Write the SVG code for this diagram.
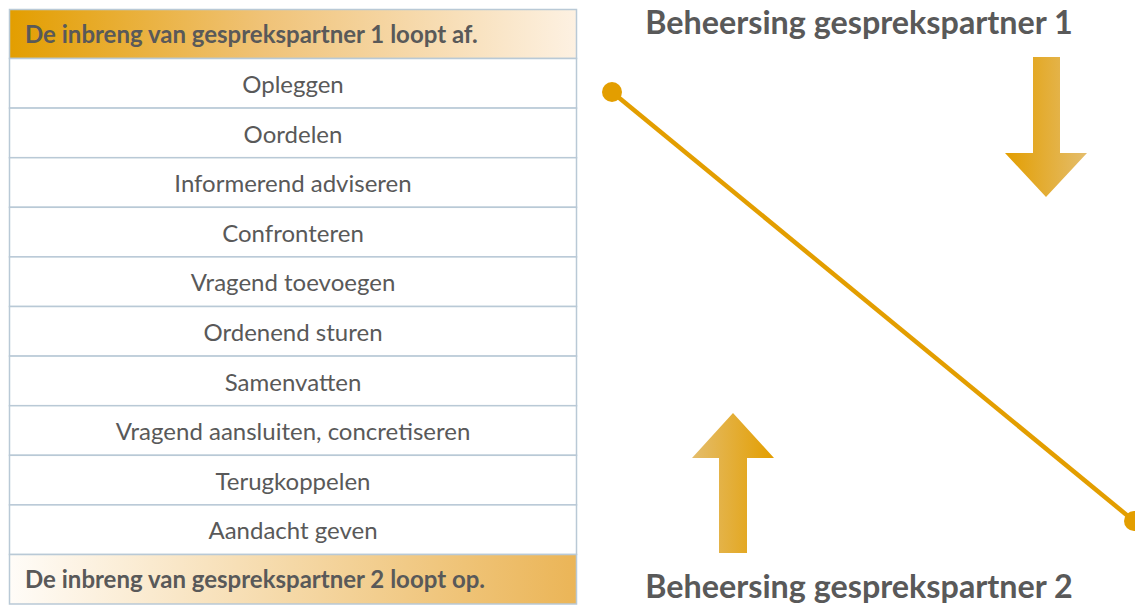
<svg xmlns="http://www.w3.org/2000/svg" width="1135" height="606" viewBox="0 0 1135 606">
<defs>
<linearGradient id="gTop" x1="0" y1="0" x2="1" y2="0">
<stop offset="0" stop-color="#e39e00"/>
<stop offset="0.45" stop-color="#f0c378"/>
<stop offset="1" stop-color="#fdf1e2"/>
</linearGradient>
<linearGradient id="gBot" x1="0" y1="0" x2="1" y2="0">
<stop offset="0" stop-color="#fffcf8"/>
<stop offset="0.5" stop-color="#f5d8a6"/>
<stop offset="1" stop-color="#ebb557"/>
</linearGradient>
<linearGradient id="gDown" x1="0" y1="0" x2="1" y2="0">
<stop offset="0" stop-color="#e39e00"/>
<stop offset="1" stop-color="#e4bd6c"/>
</linearGradient>
<linearGradient id="gUp" x1="0" y1="0" x2="1" y2="0">
<stop offset="0" stop-color="#e4bd6c"/>
<stop offset="1" stop-color="#e39e00"/>
</linearGradient>
</defs>
<style>
.cell{fill:#ffffff;stroke:#b9c9d6;stroke-width:1.5}
.t{font-family:Lato,"Liberation Sans",sans-serif;font-size:24px;fill:#595959;text-anchor:middle}
.h{font-family:Lato,"Liberation Sans",sans-serif;font-size:24px;font-weight:bold;fill:#595959}
.title{font-family:Lato,"Liberation Sans",sans-serif;font-size:32.3px;font-weight:bold;fill:#595959;text-anchor:middle}
.line{stroke:#e39e00;stroke-width:4.5;fill:none}
.dot{fill:#e39e00}
</style>
<g id="table">
<g id="row-header-top"><rect class="cell" x="9.5" y="9.5" width="567" height="49" style="fill:url(#gTop)"/><text class="h" x="25" y="43">De inbreng van gesprekspartner 1 loopt af.</text></g>
<g id="row-1"><rect class="cell" x="9.5" y="58.5" width="567" height="49.6"/><text class="t" x="293" y="93">Opleggen</text></g>
<g id="row-2"><rect class="cell" x="9.5" y="108.1" width="567" height="49.6"/><text class="t" x="293" y="142.6">Oordelen</text></g>
<g id="row-3"><rect class="cell" x="9.5" y="157.7" width="567" height="49.6"/><text class="t" x="293" y="192.2">Informerend adviseren</text></g>
<g id="row-4"><rect class="cell" x="9.5" y="207.3" width="567" height="49.6"/><text class="t" x="293" y="241.8">Confronteren</text></g>
<g id="row-5"><rect class="cell" x="9.5" y="256.9" width="567" height="49.6"/><text class="t" x="293" y="291.4">Vragend toevoegen</text></g>
<g id="row-6"><rect class="cell" x="9.5" y="306.5" width="567" height="49.6"/><text class="t" x="293" y="341">Ordenend sturen</text></g>
<g id="row-7"><rect class="cell" x="9.5" y="356.1" width="567" height="49.6"/><text class="t" x="293" y="390.6">Samenvatten</text></g>
<g id="row-8"><rect class="cell" x="9.5" y="405.7" width="567" height="49.6"/><text class="t" x="293" y="440.2">Vragend aansluiten, concretiseren</text></g>
<g id="row-9"><rect class="cell" x="9.5" y="455.3" width="567" height="49.6"/><text class="t" x="293" y="489.8">Terugkoppelen</text></g>
<g id="row-10"><rect class="cell" x="9.5" y="504.9" width="567" height="49.6"/><text class="t" x="293" y="539.4">Aandacht geven</text></g>
<g id="row-header-bottom"><rect class="cell" x="9.5" y="554.5" width="567" height="49.5" style="fill:url(#gBot)"/><text class="h" x="25" y="588">De inbreng van gesprekspartner 2 loopt op.</text></g>
</g>
<g id="title-1"><text class="title" x="859" y="34">Beheersing gesprekspartner 1</text></g>
<g id="title-2"><text class="title" x="859" y="598">Beheersing gesprekspartner 2</text></g>
<g id="arrow-down"><polygon points="1033,57 1060,57 1060,153 1087,153 1046,197 1005,153 1033,153" fill="url(#gDown)"/></g>
<g id="arrow-up"><polygon points="733,413 774,458 747,458 747,553 719,553 719,458 692,458" fill="url(#gUp)"/></g>
<g id="connectors">
<line class="line" x1="612" y1="92" x2="1134" y2="521"/>
<circle class="dot" cx="612" cy="92" r="10"/>
<circle class="dot" cx="1134" cy="521" r="10"/>
</g>
</svg>
